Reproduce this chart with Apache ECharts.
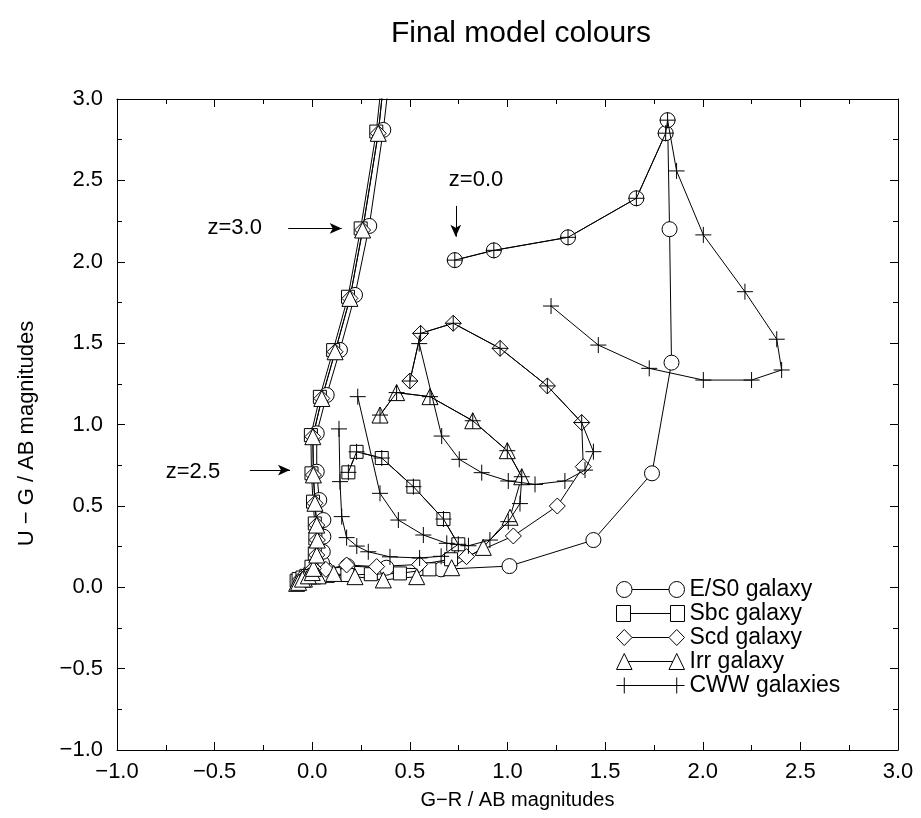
<!DOCTYPE html>
<html>
<head>
<meta charset="utf-8">
<script src="https://cdn.jsdelivr.net/npm/echarts@6/dist/echarts.min.js"></script>
<style>
html,body{margin:0;padding:0;background:#fff;}
#chart{width:921px;height:818px;}
</style>
</head>
<body>
<div id="chart"></div>
<script>
// ---- data (G-R, U-G) ----
const es0Model = [
  [0.73,2.01],[0.93,2.07],[1.31,2.15],[1.66,2.39],[1.81,2.79],[1.82,2.87],[1.83,2.20],[1.84,1.38],
  [1.74,0.70],[1.44,0.29],[1.01,0.13],[0.66,0.11],[0.38,0.12],[0.18,0.13],[0.07,0.11],[0.00,0.08],
  [-0.04,0.05],[-0.03,0.06],[-0.01,0.08],[0.03,0.11],[0.05,0.15],[0.054,0.218],[0.057,0.311],
  [0.057,0.413],[0.036,0.536],[0.023,0.71],[0.023,0.946],[0.074,1.181],[0.142,1.458],[0.219,1.796],
  [0.292,2.22],[0.364,2.81],[0.43,3.5]
];
const sbcModel = [
  [0.185,0.706],[0.227,0.832],[0.356,0.794],[0.518,0.618],[0.672,0.419],[0.748,0.264],[0.711,0.172],
  [0.60,0.11],[0.449,0.085],[0.30,0.08],[0.18,0.075],[0.08,0.07],[0.01,0.06],[-0.05,0.05],[-0.08,0.04],
  [-0.07,0.05],[-0.05,0.06],[-0.03,0.07],[-0.01,0.08],[0.00,0.095],[-0.004,0.126],[0.013,0.208],
  [0.016,0.30],[0.013,0.392],[0.004,0.526],[-0.004,0.70],[-0.007,0.935],[0.039,1.17],[0.107,1.457],
  [0.183,1.785],[0.248,2.205],[0.328,2.80],[0.39,3.5]
];
const scdModel = [
  [0.50,1.267],[0.555,1.56],[0.722,1.622],[0.962,1.468],[1.204,1.237],[1.38,1.012],[1.388,0.741],
  [1.255,0.499],[1.03,0.315],[0.79,0.188],[0.55,0.14],[0.33,0.127],[0.176,0.137],[0.07,0.11],
  [0.00,0.08],[-0.05,0.06],[-0.06,0.05],[-0.04,0.06],[-0.02,0.08],[0.00,0.10],[0.006,0.116],
  [0.023,0.198],[0.026,0.29],[0.023,0.382],[0.014,0.516],[0.006,0.69],[0.003,0.925],[0.049,1.16],
  [0.117,1.447],[0.193,1.775],[0.258,2.195],[0.338,2.789],[0.40,3.5]
];
const irrModel = [
  [0.347,1.058],[0.432,1.196],[0.603,1.171],[0.822,1.023],[0.999,0.839],[1.073,0.679],[1.013,0.43],
  [0.876,0.245],[0.714,0.12],[0.535,0.065],[0.364,0.045],[0.219,0.065],[0.11,0.085],[0.03,0.07],
  [-0.04,0.05],[-0.08,0.024],[-0.07,0.03],[-0.05,0.05],[-0.02,0.07],[0.00,0.09],[0.006,0.116],
  [0.023,0.198],[0.026,0.29],[0.023,0.382],[0.014,0.516],[0.006,0.69],[0.003,0.925],[0.049,1.16],
  [0.117,1.447],[0.193,1.775],[0.258,2.195],[0.338,2.789],[0.40,3.5]
];
const cwwE = [
  [0.73,2.01],[0.93,2.07],[1.31,2.15],[1.66,2.39],[1.81,2.79],[1.82,2.87],[1.866,2.558],[2.003,2.165],
  [2.216,1.816],[2.379,1.524],[2.404,1.335],[2.25,1.273],[2.003,1.273],[1.726,1.345],[1.465,1.488],[1.223,1.728]
];
const cwwSbc = [
  [0.185,0.706],[0.227,0.832],[0.356,0.794],[0.518,0.618],[0.672,0.419],[0.748,0.264],[0.66,0.19],
  [0.55,0.18],[0.398,0.187],[0.287,0.218],[0.228,0.253],[0.176,0.305],[0.151,0.434],[0.142,0.649],[0.137,0.973]
];
const cwwScd = [
  [0.50,1.267],[0.555,1.56],[0.722,1.622],[0.962,1.468],[1.204,1.237],[1.38,1.012],[1.44,0.833],
  [1.397,0.72],[1.294,0.653],[1.141,0.632],[1.004,0.653],[0.868,0.704],[0.753,0.786],[0.663,0.929],[0.548,1.497]
];
const cwwIrr = [
  [0.347,1.058],[0.432,1.196],[0.603,1.171],[0.822,1.023],[0.999,0.839],[1.073,0.679],[1.064,0.514],
  [1.004,0.403],[0.91,0.29],[0.80,0.255],[0.689,0.27],[0.569,0.321],[0.441,0.413],[0.347,0.577],[0.233,1.171]
];
const legendNames = ['E/S0 galaxy','Sbc galaxy','Scd galaxy','Irr galaxy','CWW galaxies'];
const annotations = [
  {text:'z=0.0', label:[0.839,2.502], from:[0.735,2.343], to:[0.735,2.154]},
  {text:'z=3.0', label:[-0.397,2.207], from:[-0.123,2.205], to:[0.151,2.205]},
  {text:'z=2.5', label:[-0.611,0.708], from:[-0.319,0.72], to:[-0.114,0.72]}
];

// ---- styling ----
const FONT = 'Liberation Sans, Arial, Helvetica, sans-serif';
const PLUS = 'path://M0,8L16,8M8,0L8,16';
function fmt(v){ return (v < 0 ? '\u2212' : '') + Math.abs(v).toFixed(1); }

function circ(cx, r){ return `M${cx-r},8A${r},${r} 0 1,1 ${cx+r},8A${r},${r} 0 1,1 ${cx-r},8Z`; }
const legendIcons = [
  'path://' + circ(8,8) + 'M16,8L54,8' + circ(62,8),
  'path://M1,1L15,1L15,15L1,15ZM15,8L55,8M55,1L69,1L69,15L55,15Z',
  'path://M0,8L8,0L16,8L8,16ZM16,8L54,8M54,8L62,0L70,8L62,16Z',
  'path://M0,16L8,0L16,16ZM12,8L58,8M54,16L62,0L70,16Z',
  'path://M0,8L70,8M8,0L8,16M62,0L62,16'
];

function modelSeries(name, data, symbol, size){
  return {
    name, type:'line', data, symbol, symbolSize:size, showAllSymbol:true,
    lineStyle:{color:'#000', width:1},
    itemStyle:{color:'#fff', borderColor:'#000', borderWidth:1},
    clip:true, z:2
  };
}
function cwwSeries(data){
  return {
    name:'CWW galaxies', type:'line', data, symbol:PLUS, symbolSize:16, showAllSymbol:true,
    lineStyle:{color:'#000', width:1},
    itemStyle:{color:'transparent', borderColor:'#000', borderWidth:1},
    clip:true, z:3
  };
}

const axisCommon = {
  type:'value', min:-1, max:3, interval:0.5,
  axisLine:{show:true, onZero:false, lineStyle:{color:'#000', width:1}},
  axisTick:{show:true, inside:true, length:8, lineStyle:{color:'#000', width:1}},
  minorTick:{show:true, splitNumber:2, length:5, lineStyle:{color:'#000', width:1}},
  splitLine:{show:false}, minorSplitLine:{show:false}
};

const chart = echarts.init(document.getElementById('chart'), null, {renderer:'canvas'});

const annotSeries = {
  name:'annot', type:'line', data:[], silent:true, z:4,
  markLine:{
    silent:true, animation:false,
    lineStyle:{color:'#000', width:1, type:'solid'},
    label:{show:false},
    data: annotations.map(a => [
      {coord:a.from, symbol:'none'},
      {coord:a.to, symbol:'arrow', symbolSize:[8,12]}
    ])
  },
  markPoint:{
    silent:true, animation:false,
    symbol:'circle', symbolSize:0,
    label:{show:true, position:'inside', color:'#000', fontSize:22, fontFamily:FONT},
    data: annotations.map(a => ({coord:a.label, value:a.text, label:{formatter:a.text}}))
  }
};

chart.setOption({
  animation:false,
  backgroundColor:'#fff',
  title:{text:'Final model colours', left:386, top:14,
    textStyle:{fontSize:30, fontWeight:'normal', color:'#000', fontFamily:FONT}},
  grid:{left:117, right:23, top:99, bottom:68, containLabel:false},
  legend:{
    orient:'vertical', left:616, top:578, padding:0, itemWidth:68, itemHeight:16, itemGap:1,
    selectedMode:false, symbolKeepAspect:false,
    textStyle:{fontSize:23, color:'#000', fontFamily:FONT},
    itemStyle:{color:'#fff', borderColor:'#000', borderWidth:1},
    data: legendNames.map((n,i) => ({name:n, icon:legendIcons[i]}))
  },
  xAxis:[
    Object.assign({}, axisCommon, {position:'bottom',
      axisLabel:{show:true, formatter:fmt, fontSize:22, color:'#000', fontFamily:FONT, margin:11},
      name:'G\u2212R / AB magnitudes', nameLocation:'middle', nameGap:40,
      nameTextStyle:{fontSize:20, color:'#000', fontFamily:FONT, padding:[0,0,0,20]}}),
    Object.assign({}, axisCommon, {position:'top', axisLabel:{show:false}})
  ],
  yAxis:[
    Object.assign({}, axisCommon, {position:'left',
      axisLabel:{show:true, formatter:fmt, fontSize:22, color:'#000', fontFamily:FONT, margin:14},
      name:'U \u2212 G / AB magnitudes', nameLocation:'middle', nameGap:79,
      nameTextStyle:{fontSize:22, color:'#000', fontFamily:FONT, padding:[0,18,0,0]}}),
    Object.assign({}, axisCommon, {position:'right', axisLabel:{show:false}})
  ],
  series:[
    modelSeries('E/S0 galaxy', es0Model, 'circle', 15),
    modelSeries('Sbc galaxy', sbcModel, 'rect', 13),
    modelSeries('Scd galaxy', scdModel, 'diamond', 16),
    modelSeries('Irr galaxy', irrModel, 'triangle', 16),
    cwwSeries(cwwE), cwwSeries(cwwSbc), cwwSeries(cwwScd), cwwSeries(cwwIrr),
    annotSeries
  ]
});
</script>
</body>
</html>
